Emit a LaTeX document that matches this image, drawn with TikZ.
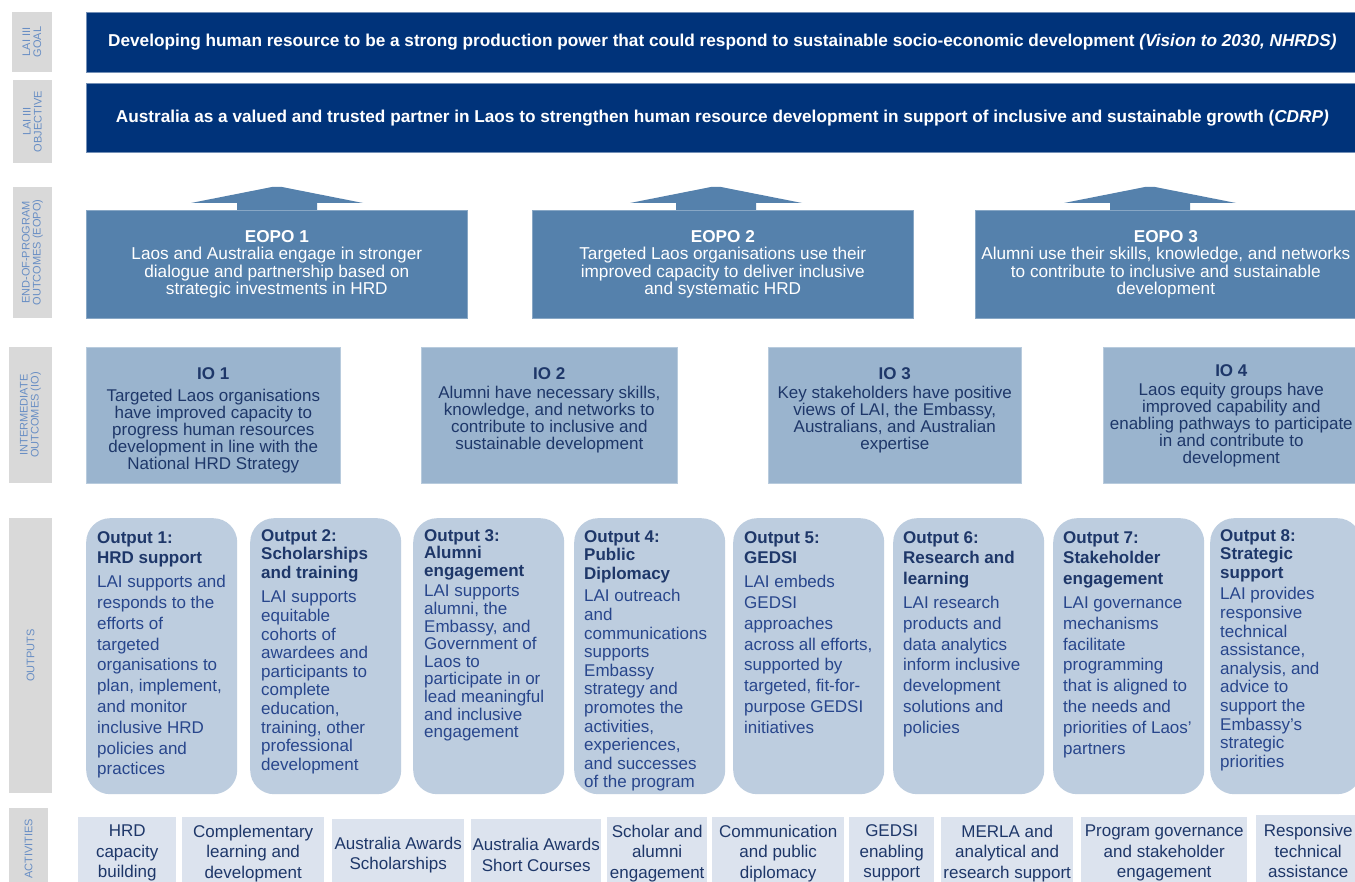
\documentclass[tikz,border=0pt]{standalone}
\usepackage{fontspec}
\setmainfont{Liberation Sans}
\usepackage{xcolor}
\usetikzlibrary{positioning}

\definecolor{lainavy}{RGB}{0,51,122}
\definecolor{eopoblue}{RGB}{85,129,172}
\definecolor{ioblue}{RGB}{154,180,206}
\definecolor{outblue}{RGB}{189,205,223}
\definecolor{actblue}{RGB}{220,227,238}
\definecolor{sidegray}{RGB}{217,217,217}
\definecolor{sidetext}{RGB}{104,142,196}
\definecolor{inktitle}{RGB}{30,55,105}
\definecolor{inkbody}{RGB}{40,70,140}

% bold heading line inside an output box
\newcommand{\otitle}[1]{{\color{inktitle}\bfseries #1}}

\tikzset{
  sidelabel/.style={fill=sidegray, text=sidetext, rotate=90, align=center, inner sep=0pt,
    font=\fontsize{11}{11}\selectfont},
  topbar/.style={anchor=north west, fill=lainavy, draw=lainavy!55!white, line width=0.7pt,
    minimum width=1272pt, inner sep=0pt, text=white, font=\bfseries\fontsize{17.2}{20}\selectfont},
  eopo/.style={anchor=north west, fill=eopoblue, draw=eopoblue!70!white, line width=0.6pt,
    minimum width=381pt, minimum height=108pt, inner sep=0pt, align=center, text=white,
    font=\fontsize{17.2}{17.3}\selectfont},
  iobox/.style={anchor=north west, fill=ioblue, draw=ioblue!70!white, line width=0.6pt,
    minimum height=136pt, inner sep=0pt},
  iotext/.style={align=center, inner sep=0pt, text=inktitle, font=\fontsize{17}{16.8}\selectfont},
  outbox/.style={anchor=north west, fill=outblue, rounded corners=24pt,
    minimum width=151pt, minimum height=276pt, inner sep=0pt},
  outtext/.style={align=left, inner sep=0pt, text=inkbody, font=\fontsize{17}{20.8}\selectfont},
  outtight/.style={font=\fontsize{17}{18.6}\selectfont},
  actbox/.style={anchor=north west, fill=actblue, minimum height=72pt, inner sep=0pt,
    align=center, text=inktitle, font=\fontsize{17}{20.6}\selectfont}
}

\begin{document}
\begin{tikzpicture}[x=1pt, y=-1pt]
    \fill[white] (0,0) rectangle (1355,882);
    \useasboundingbox (0,0) rectangle (1355,882);

    % row labels
    \node[sidelabel, minimum width=60pt, minimum height=40pt] (lblgoal) at (32,42) {LAI III\\GOAL};
    \node[sidelabel, minimum width=83pt, minimum height=39pt] (lblobj) at (32.5,121.5) {LAI III\\OBJECTIVE};
    \node[sidelabel, minimum width=131pt, minimum height=39pt] (lbleopo) at (32.5,252.5) {END-OF-PROGRAM\\OUTCOMES (EOPO)};
    \node[sidelabel, minimum width=136pt, minimum height=43pt] (lblio) at (30.5,415) {INTERMEDIATE\\OUTCOMES (IO)};
    \node[sidelabel, minimum width=275pt, minimum height=43pt] (lblout) at (30.5,655.5) {OUTPUTS};
    \node[sidelabel, minimum width=82pt, minimum height=39pt] (lblact) at (28.5,849) {ACTIVITIES};

    % goal and objective bars
    \node[topbar, minimum height=60pt] (goal) at (86,12)
      {Developing human resource to be a strong production power that could respond to sustainable socio-economic development \textit{(Vision to 2030, NHRDS)}};
    \node[topbar, minimum height=69pt] (objective) at (86,83)
      {Australia as a valued and trusted partner in Laos to strengthen human resource development in support of inclusive and sustainable growth (\textit{CDRP)}};

    % flat arrows on top of the EOPO boxes
    \foreach \cx in {277,716,1150}
      \fill[eopoblue] (\cx-40,211) -- (\cx-40,203) -- (\cx-86,203) -- (\cx-5,187)
        -- (\cx+5,187) -- (\cx+86,203) -- (\cx+40,203) -- (\cx+40,211) -- cycle;

    % end-of-program outcomes
    \node[eopo] (eopo1) at (86,210) {\textbf{EOPO 1}\\Laos and Australia engage in stronger\\dialogue and partnership based on\\strategic investments in HRD};
    \node[eopo] (eopo2) at (532,210) {\textbf{EOPO 2}\\Targeted Laos organisations use their\\improved capacity to deliver inclusive\\and systematic HRD};
    \node[eopo] (eopo3) at (975,210) {\textbf{EOPO 3}\\Alumni use their skills, knowledge, and networks\\to contribute to inclusive and sustainable\\development};

    % intermediate outcomes
    \node[iobox, minimum width=254pt] (io1) at (86,347) {};
    \node[iobox, minimum width=256pt] (io2) at (421,347) {};
    \node[iobox, minimum width=253pt] (io3) at (768,347) {};
    \node[iobox, minimum width=256pt] (io4) at (1103,347) {};
    \node[iotext, below=20pt of io1.north] (io1txt) {\textbf{IO 1}\\[6pt]Targeted Laos organisations\\have improved capacity to\\progress human resources\\development in line with the\\National HRD Strategy};
    \node[iotext, below=20pt of io2.north] (io2txt) {\textbf{IO 2}\\[3pt]Alumni have necessary skills,\\knowledge, and networks to\\contribute to inclusive and\\sustainable development};
    \node[iotext, below=20pt of io3.north] (io3txt) {\textbf{IO 3}\\[3pt]Key stakeholders have positive\\views of LAI, the Embassy,\\Australians, and Australian\\expertise};
    \node[iotext, below=17pt of io4.north] (io4txt) {\textbf{IO 4}\\[3pt]Laos equity groups have\\improved capability and\\enabling pathways to participate\\in and contribute to\\development};

    % outputs
    \foreach \n/\x in {1/86,2/250,3/413,4/574,5/733,6/893,7/1053,8/1210}
      \node[outbox] (out\n) at (\x,518) {};
    \node[outtext, below right=13pt and 11pt of out1.north west] (out1txt)
      {\otitle{Output 1:}\\\otitle{HRD support}\\[3pt]LAI supports and\\responds to the\\efforts of\\targeted\\organisations to\\plan, implement,\\and monitor\\inclusive HRD\\policies and\\practices};
    \node[outtext, outtight, below right=11pt and 11pt of out2.north west] (out2txt)
      {\otitle{Output 2:}\\\otitle{Scholarships}\\\otitle{and training}\\[6pt]LAI supports\\equitable\\cohorts of\\awardees and\\participants to\\complete\\education,\\training, other\\professional\\development};
    \node[outtext, font=\fontsize{17}{17.6}\selectfont, below right=11pt and 11pt of out3.north west] (out3txt)
      {\otitle{Output 3:}\\\otitle{Alumni}\\\otitle{engagement}\\[3pt]LAI supports\\alumni, the\\Embassy, and\\Government of\\Laos to\\participate in or\\lead meaningful\\and inclusive\\engagement};
    \node[outtext, outtight, below right=12pt and 10pt of out4.north west] (out4txt)
      {\otitle{Output 4:}\\\otitle{Public}\\\otitle{Diplomacy}\\[4pt]LAI outreach\\and\\communications\\supports\\Embassy\\strategy and\\promotes the\\activities,\\experiences,\\and successes\\of the program};
    \node[outtext, below right=13pt and 11pt of out5.north west] (out5txt)
      {\otitle{Output 5:}\\\otitle{GEDSI}\\[3pt]LAI embeds\\GEDSI\\approaches\\across all efforts,\\supported by\\targeted, fit-for-\\purpose GEDSI\\initiatives};
    \node[outtext, below right=13pt and 10pt of out6.north west] (out6txt)
      {\otitle{Output 6:}\\\otitle{Research and}\\\otitle{learning}\\[3pt]LAI research\\products and\\data analytics\\inform inclusive\\development\\solutions and\\policies};
    \node[outtext, below right=13pt and 10pt of out7.north west] (out7txt)
      {\otitle{Output 7:}\\\otitle{Stakeholder}\\\otitle{engagement}\\[3pt]LAI governance\\mechanisms\\facilitate\\programming\\that is aligned to\\the needs and\\priorities of Laos'\\partners};
    \node[outtext, outtight, below right=11pt and 10pt of out8.north west] (out8txt)
      {\otitle{Output 8:}\\\otitle{Strategic}\\\otitle{support}\\[3pt]LAI provides\\responsive\\technical\\assistance,\\analysis, and\\advice to\\support the\\Embassy's\\strategic\\priorities};

    % activities
    \node[actbox, minimum width=98pt] (act1) at (78,817) {HRD\\capacity\\building};
    \node[actbox, minimum width=142pt] (act2) at (182,817) {Complementary\\learning and\\development};
    \node[actbox, minimum width=132pt] (act3) at (332,819) {Australia Awards\\Scholarships};
    \node[actbox, minimum width=130pt] (act4) at (471,819) {Australia Awards\\Short Courses};
    \node[actbox, minimum width=100pt] (act5) at (607,817) {Scholar and\\alumni\\engagement};
    \node[actbox, minimum width=132pt] (act6) at (712,817) {Communication\\and public\\diplomacy};
    \node[actbox, minimum width=85pt] (act7) at (849,817) {GEDSI\\enabling\\support};
    \node[actbox, minimum width=132pt] (act8) at (941,817) {MERLA and\\analytical and\\research support};
    \node[actbox, minimum width=166pt] (act9) at (1081,817) {Program governance\\and stakeholder\\engagement};
    \node[actbox, minimum width=104pt] (act10) at (1256,815) {Responsive\\technical\\assistance};
\end{tikzpicture}
\end{document}
